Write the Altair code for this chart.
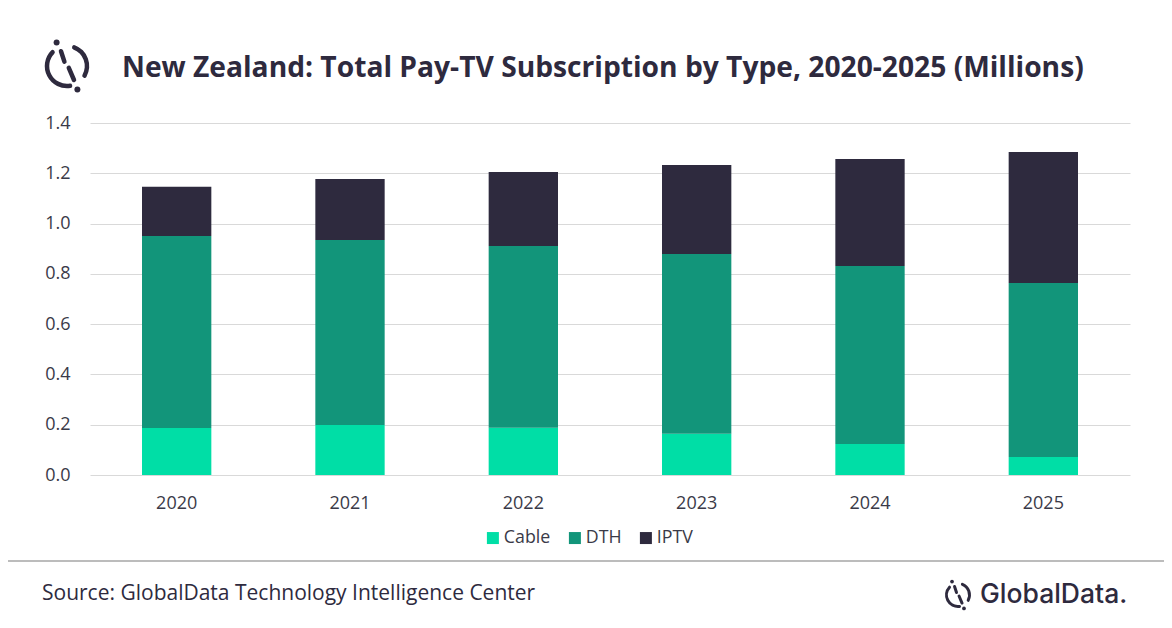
import altair as alt
import pandas as pd
import math

years = ["2020", "2021", "2022", "2023", "2024", "2025"]
cable = [0.187, 0.199, 0.188, 0.164, 0.123, 0.072]
dth = [0.764, 0.736, 0.723, 0.715, 0.708, 0.692]
iptv = [0.195, 0.242, 0.294, 0.354, 0.426, 0.521]
types = ["Cable", "DTH", "IPTV"]
colors = ["#00DEA6", "#12957A", "#2E2A3E"]
y_ticks = [0.0, 0.2, 0.4, 0.6, 0.8, 1.0, 1.2, 1.4]

title_text = "New Zealand: Total Pay-TV Subscription by Type, 2020-2025 (Millions)"
source_text = "Source: GlobalData Technology Intelligence Center"
brand_text = "GlobalData."

rows = []
for i, yr in enumerate(years):
    for k, (t, vals) in enumerate(zip(types, [cable, dth, iptv])):
        rows.append({"Year": yr, "Type": t, "Value": vals[i], "order": k})
df = pd.DataFrame(rows)

W, H = 1040, 352
FONT = "Open Sans"
DARK = "#2E2A3E"
LABEL = "#3A3A48"

bars = alt.Chart(df).mark_bar().encode(
    x=alt.X("Year:N", sort=years,
            scale=alt.Scale(paddingInner=0.6, paddingOuter=0.3),
            axis=alt.Axis(title=None, labelAngle=0, domain=False, ticks=False,
                          labelPadding=19, labelFontSize=18, labelFont=FONT,
                          labelColor=LABEL, grid=False)),
    y=alt.Y("Value:Q", stack="zero",
            scale=alt.Scale(domain=[0, 1.4], nice=False),
            axis=alt.Axis(title=None, values=y_ticks, format=".1f", domain=False,
                          ticks=False, labelPadding=20, labelFontSize=18,
                          labelFont=FONT, labelColor=LABEL,
                          gridColor="#D9D9D9", gridWidth=1)),
    color=alt.Color("Type:N", sort=types,
                    scale=alt.Scale(domain=types, range=colors),
                    legend=alt.Legend(title=None, orient="none", legendX=394,
                                      legendY=406, direction="horizontal",
                                      symbolType="square", symbolSize=144,
                                      symbolStrokeWidth=0, labelFontSize=17.8,
                                      labelFont=FONT, labelColor=LABEL,
                                      labelOffset=2, columnPadding=15)),
    order=alt.Order("order:Q"),
)

one = pd.DataFrame({"a": [0]})

def txt(text, x, y, size, weight="normal", align="left", font=FONT, color=DARK):
    return alt.Chart(one).mark_text(
        text=text, align=align, baseline="alphabetic", fontSize=size,
        fontWeight=weight, font=font, color=color
    ).encode(x=alt.value(x), y=alt.value(y))

def arc(cx, cy, r_in, r_out, t1, t2):
    return alt.Chart(one).mark_arc(
        innerRadius=r_in, outerRadius=r_out, theta=t1, theta2=t2, color=DARK,
        cornerRadius=2
    ).encode(x=alt.value(cx), y=alt.value(cy))

def seg(x1, y1, x2, y2, w):
    return alt.Chart(one).mark_rule(color=DARK, strokeWidth=w, strokeCap="round").encode(
        x=alt.value(x1), y=alt.value(y1), x2=alt.value(x2), y2=alt.value(y2))

def dot(x, y, size):
    return alt.Chart(one).mark_point(filled=True, color=DARK, size=size, opacity=1,
                                     shape="circle").encode(
        x=alt.value(x), y=alt.value(y))

def logo(cx, cy, r, sw, dsize):
    d = math.pi / 180
    return [
        arc(cx, cy, r - sw / 2, r + sw / 2, 165 * d, 320 * d),
        arc(cx, cy, r - sw / 2, r + sw / 2, 15 * d, 125 * d),
        seg(cx - 0.3 * r, cy - 0.74 * r, cx - 0.13 * r, cy - 0.22 * r, sw),
        seg(cx + 0.09 * r, cy + 0.09 * r, cx + 0.35 * r, cy + 0.7 * r, sw),
        dot(cx - 0.52 * r, cy - 1.17 * r, dsize),
        dot(cx + 0.52 * r, cy + 1.17 * r, dsize),
    ]

# page -> chart coords: subtract (90, 123)
sep = alt.Chart(one).mark_rule(color="#A6A6A6", strokeWidth=1.5).encode(
    x=alt.value(-82), x2=alt.value(1074), y=alt.value(438), y2=alt.value(438))

layers = [bars, sep,
          txt(title_text, 32, -46, 28.2, weight="bold"),
          txt(source_text, -48, 477, 21),
          txt(brand_text, 890, 480, 26.5, weight=500, font="Inter")]
layers += logo(-23, -57, 20, 4.5, 36)
layers += logo(868, 472, 11.5, 3, 14)

chart = alt.layer(*layers).properties(
    width=W, height=H,
    padding={"left": 82, "top": 115, "right": 34, "bottom": 140},
    autosize=alt.AutoSizeParams(type="none"),
    background="white",
).configure_view(stroke=None)

chart.save("out.html", embed_options={"renderer": "svg", "actions": False})
